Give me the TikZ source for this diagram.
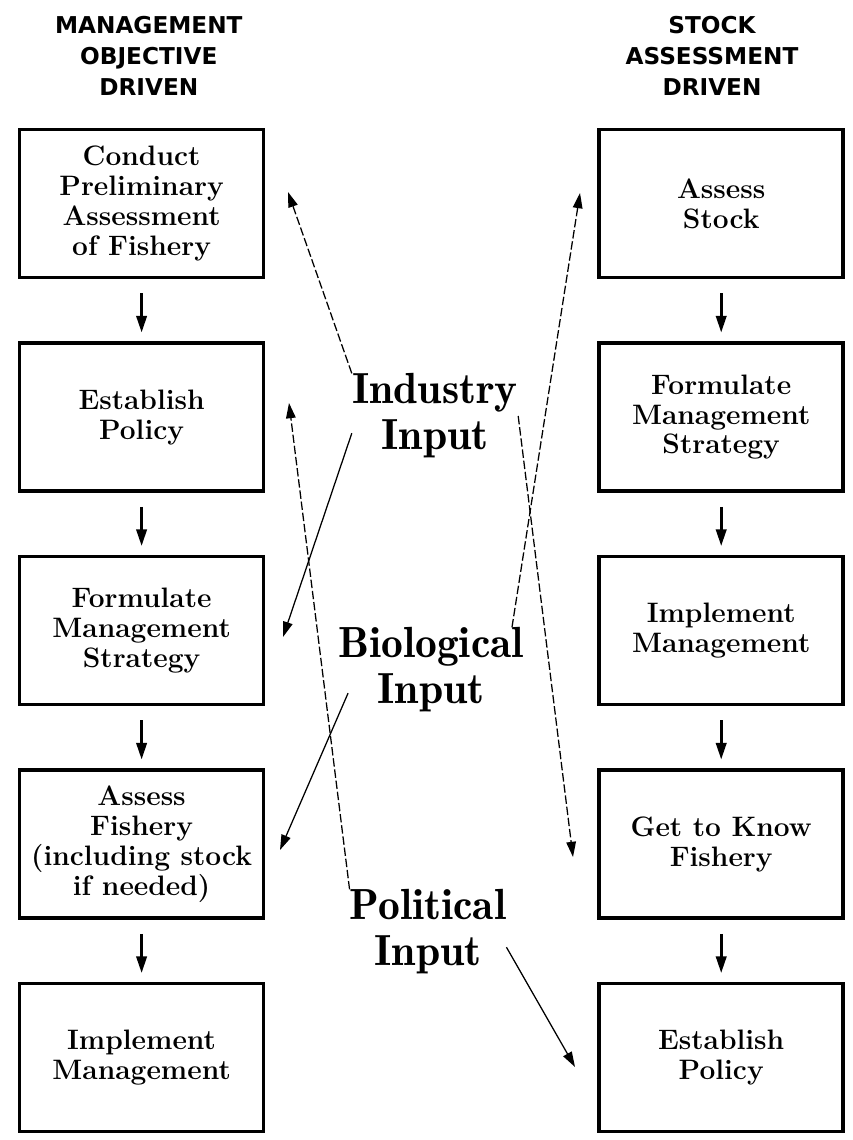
\documentclass[tikz,border=0pt]{standalone}
\usepackage{fontspec}
\usetikzlibrary{positioning,arrows.meta}
\newfontfamily\kopffont{DejaVu Sans}
\newfontfamily\mittefont{lmromandemi10-regular.otf}

\begin{document}
\begin{tikzpicture}[
		kasten/.style={draw, line width=2.5pt, minimum width=6.1cm, minimum height=3.7cm, align=center, inner sep=2pt, font=\fontsize{20}{21.3}\selectfont\bfseries},
		kopf/.style={align=center, font=\kopffont\bfseries\fontsize{16.5}{22}\selectfont},
		einfluss/.style={align=center, inner sep=0pt, font=\mittefont\fontsize{31}{32.7}\selectfont},
		schritt/.style={line width=2pt, -{Triangle[length=4.2mm,width=2.6mm]}, shorten <=0.35cm, shorten >=0.22cm},
		pfeil/.style={line width=0.9pt, -{Triangle[length=3.8mm,width=2.4mm]}},
		gestrichelt/.style={dash pattern=on 6pt off 2pt}
	]
		\useasboundingbox (0,0) rectangle (21.3,-28.5);
		% Ueberschriften
		\node [kopf] (kopfL) at (3.72,-1.4) {MANAGEMENT\\OBJECTIVE\\DRIVEN};
		\node [kopf] (kopfR) at (17.8,-1.4) {STOCK\\ASSESSMENT\\DRIVEN};
		% linke Spalte
		\node [kasten] (l1) at (3.54,-5.09) {Conduct\\Preliminary\\Assessment\\of Fishery};
		\node [kasten, below=1.55cm of l1] (l2) {Establish\\Policy};
		\node [kasten, below=1.55cm of l2] (l3) {Formulate\\Management\\Strategy};
		\node [kasten, below=1.55cm of l3] (l4) {Assess\\Fishery\\(including stock\\if needed)};
		\node [kasten, below=1.55cm of l4] (l5) {Implement\\Management};
		% rechte Spalte
		\node [kasten] (r1) at (18.03,-5.09) {Assess\\Stock};
		\node [kasten, below=1.55cm of r1] (r2) {Formulate\\Management\\Strategy};
		\node [kasten, below=1.55cm of r2] (r3) {Implement\\Management};
		\node [kasten, below=1.55cm of r3] (r4) {Get to Know\\Fishery};
		\node [kasten, below=1.55cm of r4] (r5) {Establish\\Policy};
		\foreach \a/\b in {l1/l2,l2/l3,l3/l4,l4/l5,r1/r2,r2/r3,r3/r4,r4/r5}
			\draw [schritt] (\a.south) -- (\b.north);
		% Einfluesse in der Mitte
		\node [einfluss] (ind) at (10.875,-10.4) {Industry\\Input};
		\node [einfluss] (bio) at (10.775,-16.75) {Biological\\Input};
		\node [einfluss] (pol) at (10.7,-23.3) {Political\\Input};
		% Pfeilspitzen neben den Kaesten
		\coordinate (zL1) at (7.2,-4.8);
		\coordinate (zL2) at (7.225,-10.075);
		\coordinate (zL3) at (7.075,-15.925);
		\coordinate (zL4) at (7.0,-21.25);
		\coordinate (zR1) at (14.5,-4.825);
		\coordinate (zR4) at (14.325,-21.425);
		\coordinate (zR5) at (14.375,-26.675);
		% Verbindungen
		\draw [pfeil, gestrichelt] (ind.north west) -- (zL1);
		\draw [pfeil] ([yshift=-0.43cm]ind.west) -- (zL3);
		\draw [pfeil, gestrichelt] (ind.east) -- (zR4);
		\draw [pfeil, gestrichelt] ([xshift=-0.3cm]bio.north east) -- (zR1);
		\draw [pfeil] ([shift={(0.25,-0.58)}]bio.west) -- (zL4);
		\draw [pfeil, gestrichelt] (pol.north west) -- (zL2);
		\draw [pfeil] ([yshift=-0.38cm]pol.east) -- (zR5);
\end{tikzpicture}
\end{document}
